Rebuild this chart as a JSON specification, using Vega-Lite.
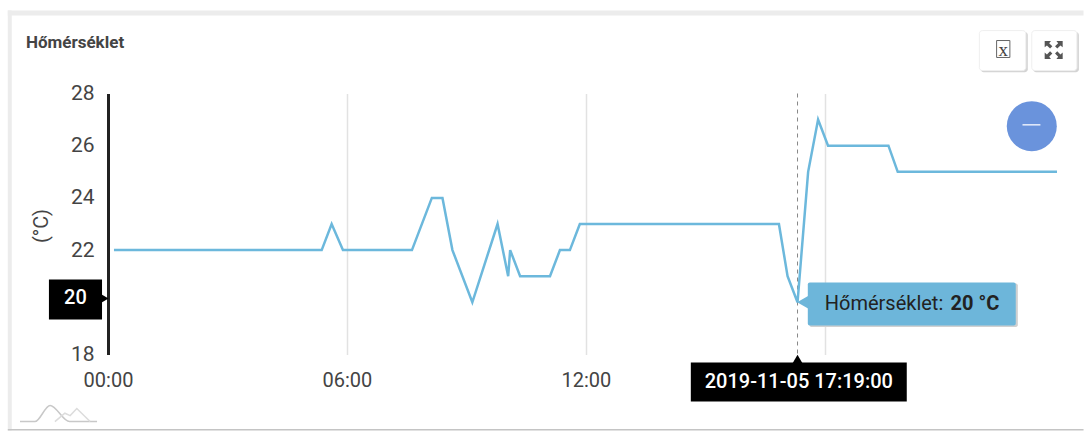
{
"$schema":"https://vega.github.io/schema/vega-lite/v6.json",
"width":949,"height":261,
"autosize":{"type":"none"},
"padding":{"left":108,"top":93.5,"right":27,"bottom":76.5},
"background":"white",
"config":{"view":{"stroke":null},"font":"Roboto"},
"encoding":{
 "x":{"field":"time","type":"temporal","title":null,
  "scale":{"domain":[{"year":2019,"month":11,"date":5,"hours":0,"minutes":0},{"year":2019,"month":11,"date":5,"hours":23,"minutes":50}],"nice":false},
  "axis":{"values":[{"year":2019,"month":11,"date":5,"hours":0},{"year":2019,"month":11,"date":5,"hours":6},{"year":2019,"month":11,"date":5,"hours":12},{"year":2019,"month":11,"date":5,"hours":18}],"format":"%H:%M","grid":true,"gridColor":"#e2e2e2","gridWidth":1.5,"domain":false,"ticks":false,"labelFont":"Roboto","labelFontSize":20,"labelColor":"#444444","labelPadding":16,"labelOverlap":false,"labelFlush":false}},
 "y":{"field":"temp","type":"quantitative","title":"(°C)",
  "scale":{"domain":[18,28],"nice":false,"zero":false},
  "axis":{"values":[18,20,22,24,26,28],"grid":false,"domain":true,"domainColor":"#222222","domainWidth":3,"ticks":false,"labelFont":"Roboto","labelFontSize":21,"labelColor":"#444444","labelPadding":14,"titleFont":"Roboto","titleFontSize":20,"titleFontWeight":"normal","titleColor":"#444444","titleX":-57,"titleY":132,"labelOverlap":false}}
},
"layer":[
{"data":{"values":[
 {"time":"2019-11-04T21:29:00","time2":"2019-11-06T00:30:00","temp":31.18,"temp2":30.99},
 {"time":"2019-11-04T21:29:00","time2":"2019-11-04T21:35:00","temp":31.18,"temp2":15.09}],"format":{"parse":{"time2":"date"}}},
 "mark":{"type":"rect","fill":"#ececec","clip":false},
 "encoding":{"x2":{"field":"time2"},"y2":{"field":"temp2"}}},
{"data":{"values":[{"time":"2019-11-04T21:29:00","time2":"2019-11-06T00:30:00","temp":15.15,"temp2":15.09}],"format":{"parse":{"time2":"date"}}},
 "mark":{"type":"rect","fill":"#c4c4c4"},
 "encoding":{"x2":{"field":"time2"},"y2":{"field":"temp2"}}},
{"data":{"values":[{"label":"Hőmérséklet","time":"2019-11-04T21:56:24","temp":29.92}]},
 "mark":{"type":"text","align":"left","font":"Roboto","fontSize":17,"fontWeight":"bold","color":"#444444"},
 "encoding":{"text":{"field":"label"}}},
{"data":{"values":[{"time":"2019-11-05T17:19:00","temp":28},{"time":"2019-11-05T17:19:00","temp":18}]},
 "mark":{"type":"line","stroke":"#888888","strokeWidth":1,"strokeDash":[4,4]}},
{"data":{"values":[
 {"time":"2019-11-05T00:09:00","temp":22},{"time":"2019-11-05T05:22:00","temp":22},{"time":"2019-11-05T05:37:00","temp":23},{"time":"2019-11-05T05:54:00","temp":22},
 {"time":"2019-11-05T07:38:00","temp":22},{"time":"2019-11-05T08:08:00","temp":24},{"time":"2019-11-05T08:24:00","temp":24},{"time":"2019-11-05T08:39:00","temp":22},
 {"time":"2019-11-05T09:09:00","temp":20},{"time":"2019-11-05T09:47:00","temp":23},{"time":"2019-11-05T10:03:00","temp":21},{"time":"2019-11-05T10:06:00","temp":22},
 {"time":"2019-11-05T10:21:00","temp":21},{"time":"2019-11-05T11:06:00","temp":21},{"time":"2019-11-05T11:21:00","temp":22},{"time":"2019-11-05T11:36:00","temp":22},
 {"time":"2019-11-05T11:51:00","temp":23},{"time":"2019-11-05T16:51:00","temp":23},{"time":"2019-11-05T17:04:00","temp":21},{"time":"2019-11-05T17:19:00","temp":20},
 {"time":"2019-11-05T17:35:00","temp":25},{"time":"2019-11-05T17:50:00","temp":27},{"time":"2019-11-05T18:05:00","temp":26},{"time":"2019-11-05T19:36:00","temp":26},
 {"time":"2019-11-05T19:50:00","temp":25},{"time":"2019-11-05T23:50:00","temp":25}]},
 "mark":{"type":"line","stroke":"#6cb8dc","strokeWidth":2.5}},
{"data":{"values":[{"time":"2019-11-04T22:31:00","time2":"2019-11-04T23:51:00","temp":20.87,"temp2":19.34},{"time":"2019-11-05T14:38:13","time2":"2019-11-05T20:03:37","temp":17.69,"temp2":16.2}],"format":{"parse":{"time2":"date"}}},
 "mark":{"type":"rect","fill":"#000000"},
 "encoding":{"x2":{"field":"time2"},"y2":{"field":"temp2"}}},
{"data":{"values":[{"time":"2019-11-04T23:54:00","temp":20.15}]},
 "mark":{"type":"point","shape":"triangle-right","filled":true,"fill":"#000000","opacity":1,"size":110}},
{"data":{"values":[{"time":"2019-11-05T17:19:00","temp":17.82}]},
 "mark":{"type":"point","shape":"triangle-up","filled":true,"fill":"#000000","opacity":1,"size":110}},
{"data":{"values":[{"label":"20","time":"2019-11-04T23:11:00","temp":20.15}]},
 "mark":{"type":"text","font":"Roboto","fontSize":20,"fontWeight":500,"color":"#ffffff"},
 "encoding":{"text":{"field":"label"}}},
{"data":{"values":[{"label":"2019-11-05 17:19:00","time":"2019-11-05T17:21:00","temp":16.95}]},
 "mark":{"type":"text","font":"Roboto","fontSize":20,"fontWeight":500,"color":"#ffffff"},
 "encoding":{"text":{"field":"label"}}},
{"data":{"values":[{"time":"2019-11-05T17:37:00","time2":"2019-11-05T22:51:00","temp":20.72,"temp2":19.05}],"format":{"parse":{"time2":"date"}}},
 "mark":{"type":"rect","fill":"#d0d0d0","cornerRadius":2}, 
 "encoding":{"x2":{"field":"time2"},"y2":{"field":"temp2"}}},
{"data":{"values":[{"time":"2019-11-05T17:34:30","time2":"2019-11-05T22:47:50","temp":20.76,"temp2":19.11}],"format":{"parse":{"time2":"date"}}},
 "mark":{"type":"rect","fill":"#6db6da","cornerRadius":2},
 "encoding":{"x2":{"field":"time2"},"y2":{"field":"temp2"}}},
{"data":{"values":[{"time":"2019-11-05T17:27:00","temp":20}]},
 "mark":{"type":"point","shape":"triangle-left","filled":true,"fill":"#6db6da","opacity":1,"size":170}},
{"data":{"values":[{"label":"Hőmérséklet:","time":"2019-11-05T18:00:00","temp":19.93}]},
 "mark":{"type":"text","align":"left","font":"Roboto","fontSize":20,"color":"#222222"},
 "encoding":{"text":{"field":"label"}}},
{"data":{"values":[{"label":"20 °C","time":"2019-11-05T21:09:30","temp":19.93}]},
 "mark":{"type":"text","align":"left","font":"Roboto","fontSize":20,"fontWeight":"bold","color":"#222222"},
 "encoding":{"text":{"field":"label"}}},
{"data":{"values":[{"time":"2019-11-05T21:55:00","time2":"2019-11-05T23:06:00","temp":30.36,"temp2":28.81},{"time":"2019-11-05T23:14:00","time2":"2019-11-06T00:23:00","temp":30.36,"temp2":28.81}],"format":{"parse":{"time2":"date"}}},
 "mark":{"type":"rect","fill":"#d4d4d4","cornerRadius":3},
 "encoding":{"x2":{"field":"time2"},"y2":{"field":"temp2"}}},
{"data":{"values":[{"time":"2019-11-05T21:53:00","time2":"2019-11-05T23:03:00","temp":30.41,"temp2":28.88},{"time":"2019-11-05T23:12:00","time2":"2019-11-06T00:20:00","temp":30.41,"temp2":28.88}],"format":{"parse":{"time2":"date"}}},
 "mark":{"type":"rect","fill":"#ffffff","stroke":"#efefef","strokeWidth":1,"cornerRadius":3},
 "encoding":{"x2":{"field":"time2"},"y2":{"field":"temp2"}}},
{"data":{"values":[{"time":"2019-11-05T22:19:00","time2":"2019-11-05T22:39:00","temp":30.03,"temp2":29.38}],"format":{"parse":{"time2":"date"}}},
 "mark":{"type":"rect","fill":"#ffffff","stroke":"#666666","strokeWidth":1},
 "encoding":{"x2":{"field":"time2"},"y2":{"field":"temp2"}}},
{"data":{"values":[{"label":"x","time":"2019-11-05T22:29:00","temp":29.66}]},
 "mark":{"type":"text","font":"Liberation Serif","fontSize":19,"color":"#444444"},
 "encoding":{"text":{"field":"label"}}},
{"data":{"values":[{"time":"2019-11-05T23:45:00","temp":29.67}]},
 "mark":{"type":"point","filled":true,"fill":"#555555","opacity":1,"size":324,
  "shape":"M-1,-1L-0.3,-1L-0.5,-0.75L-0.15,-0.4L-0.4,-0.15L-0.75,-0.5L-1,-0.3ZM1,-1L0.3,-1L0.5,-0.75L0.15,-0.4L0.4,-0.15L0.75,-0.5L1,-0.3ZM-1,1L-0.3,1L-0.5,0.75L-0.15,0.4L-0.4,0.15L-0.75,0.5L-1,0.3ZM1,1L0.3,1L0.5,0.75L0.15,0.4L0.4,0.15L0.75,0.5L1,0.3Z"}},
{"data":{"values":[{"time":"2019-11-05T23:12:00","temp":26.75}]},
 "mark":{"type":"point","shape":"circle","filled":true,"fill":"#6a93dc","opacity":1,"size":2500}},
{"data":{"values":[{"time":"2019-11-05T22:58:00","temp":26.8},{"time":"2019-11-05T23:25:00","temp":26.8}]},
 "mark":{"type":"line","stroke":"#e8eefb","strokeWidth":1.5}},
{"data":{"values":[
 {"time":"2019-11-04T21:47:24","temp":15.43},{"time":"2019-11-04T22:10:00","temp":15.43},{"time":"2019-11-04T22:32:40","temp":16.05},{"time":"2019-11-04T23:02:00","temp":15.43},{"time":"2019-11-04T23:43:30","temp":15.43}]},
 "mark":{"type":"line","stroke":"#c8c8c8","strokeWidth":1.5,"interpolate":"monotone"}},
{"data":{"values":[
 {"time":"2019-11-04T22:40:00","temp":15.43},{"time":"2019-11-04T22:55:00","temp":15.75},{"time":"2019-11-04T23:03:00","temp":15.66},{"time":"2019-11-04T23:13:00","temp":15.93},{"time":"2019-11-04T23:33:00","temp":15.43}]},
 "mark":{"type":"line","stroke":"#dcdcdc","strokeWidth":1.5}}
]
}
